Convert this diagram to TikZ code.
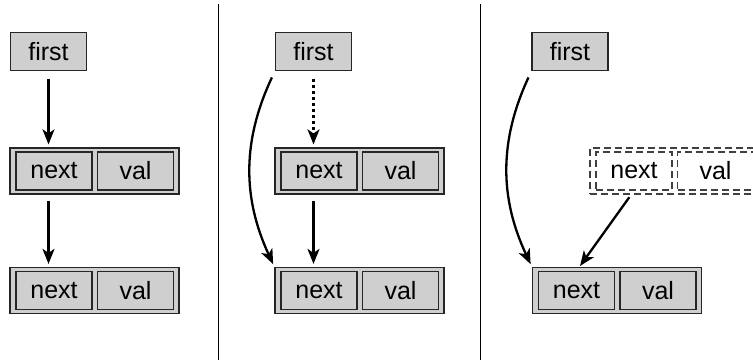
\documentclass[tikz,border=0pt]{standalone}
\usepackage{fontspec}
\setmainfont{Liberation Sans}
\usetikzlibrary{arrows.meta}

\tikzset{
    cell/.style={draw=black!85, fill=black!19, line width=1.2pt, minimum width=76pt,
        minimum height=38pt, inner sep=0pt, font=\fontsize{25}{25}\selectfont},
    rec/.style={draw=black!85, fill=black!19, line width=1.2pt, minimum width=169pt,
        minimum height=46pt, inner sep=0pt},
    ghostcell/.style={cell, draw=black!75, fill=none, line width=1.4pt, dash pattern=on 7pt off 4pt},
    ghostrec/.style={rec, draw=black!75, fill=none, line width=1.4pt, dash pattern=on 7pt off 4pt},
    link/.style={-{Stealth[length=15pt,width=12pt,inset=4pt]}, line width=2.3pt},
}

\begin{document}
\begin{tikzpicture}[x=1pt,y=-1pt]
    \useasboundingbox (0,0) rectangle (753,360);

    % separators
    \draw[line width=1pt] (218,4) -- (218,360);
    \draw[line width=1pt] (480,4) -- (480,360);

    % left: two linked nodes
    \node[cell] (first1) at (48.5,51.5) {first};
    \node[rec] (rec1a) at (94.5,171) {};
    \node[cell] (next1a) at (54,171) {next};
    \node[cell] (val1a) at (135.5,171) {val};
    \node[rec] (rec1b) at (94.5,290.5) {};
    \node[cell] (next1b) at (54,290.5) {next};
    \node[cell] (val1b) at (135.5,290.5) {val};

    \draw[link, shorten <=8pt, shorten >=3pt] (first1) -- (first1 |- rec1a.north);
    \draw[link, shorten <=6pt, shorten >=3pt] (rec1a.south -| first1) -- (rec1b.north -| first1);

    % middle: first skips over the head
    \node[cell] (first2) at (313.5,51.5) {first};
    \node[rec] (rec2a) at (359.5,171) {};
    \node[cell] (next2a) at (319,171) {next};
    \node[cell] (val2a) at (400.5,171) {val};
    \node[rec] (rec2b) at (359.5,290.5) {};
    \node[cell] (next2b) at (319,290.5) {next};
    \node[cell] (val2b) at (400.5,290.5) {val};

    \draw[link, dash pattern=on 2.5pt off 3.5pt, shorten <=8pt, shorten >=3pt] (first2) -- (first2 |- rec2a.north);
    \draw[link, shorten <=6pt, shorten >=3pt] (rec2a.south -| first2) -- (rec2b.north -| first2);
    \draw[link, shorten <=7pt, shorten >=3pt] (first2.south west) to[bend right=25] (rec2b.north west);

    % right: old head is gone
    \node[cell] (first3) at (570,51.5) {first};
    \node[ghostrec] (rec3a) at (674.5,171) {};
    \node[ghostcell] (next3a) at (634,171) {next};
    \node[ghostcell] (val3a) at (715.5,171) {val};
    \node[rec] (rec3b) at (617,290.5) {};
    \node[cell] (next3b) at (576.5,290.5) {next};
    \node[cell] (val3b) at (658,290.5) {val};

    \draw[link, shorten <=7pt, shorten >=3pt] (first3.south west) to[bend right=25] (rec3b.north west);
    \draw[link, shorten <=8pt, shorten >=6pt] (next3a.south) -- (next3b.north);
\end{tikzpicture}
\end{document}
